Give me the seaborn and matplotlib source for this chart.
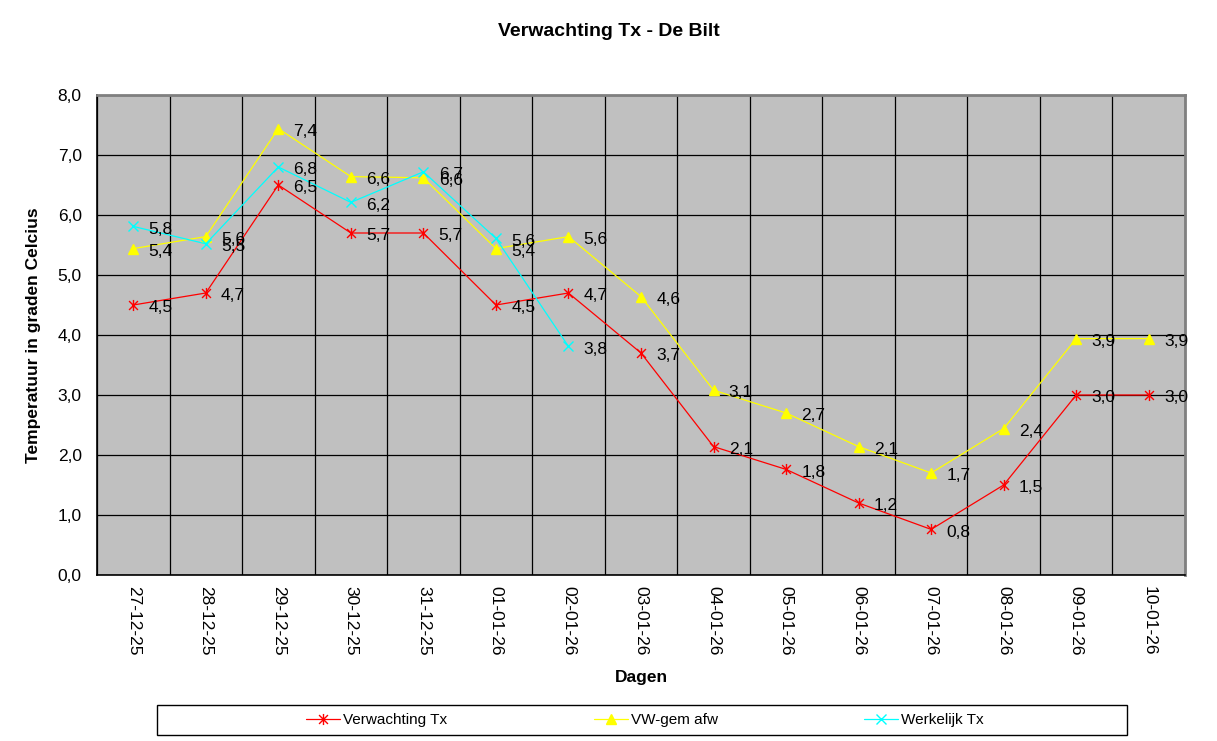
import numpy as np
import pandas as pd
import matplotlib
matplotlib.use("Agg")
import matplotlib.pyplot as plt
from matplotlib.path import Path
from matplotlib.patches import Rectangle
import seaborn as sns

# ---- data ----
dates = ["27-12-25", "28-12-25", "29-12-25", "30-12-25", "31-12-25", "01-01-26",
         "02-01-26", "03-01-26", "04-01-26", "05-01-26", "06-01-26", "07-01-26",
         "08-01-26", "09-01-26", "10-01-26"]
verwachting = [4.5, 4.7, 6.5, 5.7, 5.7, 4.5, 4.7, 3.7, 2.14, 1.76, 1.2, 0.76, 1.5, 3.0, 3.0]
vw_gem = [5.44, 5.64, 7.44, 6.64, 6.62, 5.44, 5.64, 4.64, 3.08, 2.70, 2.14, 1.70, 2.44, 3.94, 3.94]
werkelijk = [5.81, 5.52, 6.80, 6.21, 6.72, 5.61, 3.81]
y_ticks = [0, 1, 2, 3, 4, 5, 6, 7, 8]

sns.set_style("white")
plt.rcParams["font.family"] = ["Liberation Sans", "DejaVu Sans"]
plt.rcParams["text.color"] = "black"
plt.rcParams["axes.labelcolor"] = "black"
plt.rcParams["xtick.color"] = "black"
plt.rcParams["ytick.color"] = "black"

W, H = 1217, 741
fig = plt.figure(figsize=(W / 100, H / 100), dpi=100)
ax = fig.add_axes([97 / W, 1 - 575 / H, (1185 - 97) / W, (575 - 95) / H])
ax.set_facecolor("#C0C0C0")

star = Path([(0, -1), (0, 1), (-0.8, -0.8), (0.8, 0.8), (-0.8, 0.8), (0.8, -0.8)],
            [Path.MOVETO, Path.LINETO, Path.MOVETO, Path.LINETO, Path.MOVETO, Path.LINETO])

xs = np.arange(len(dates))
series = [
    ("Verwachting Tx", verwachting, "#FF0000", star, 8),
    ("VW-gem afw", vw_gem, "#FFFF00", "^", 7.5),
    ("Werkelijk Tx", werkelijk, "#00FFFF", "x", 6.5),
]
handles = []
for i, (name, vals, col, mk, ms) in enumerate(series):
    df = pd.DataFrame({"x": xs[:len(vals)], "y": vals})
    sns.lineplot(data=df, x="x", y="y", ax=ax, color=col, marker=mk, markersize=ms,
                 markeredgecolor=col, markerfacecolor=col, markeredgewidth=1.0,
                 linewidth=0.9, errorbar=None, zorder=3 + i, label=name, legend=False)
    handles.append(ax.lines[-1])

for name, vals, col, mk, ms in series:
    for x, v in zip(xs, vals):
        ax.annotate(f"{v:.1f}".replace(".", ","), (x, v), xytext=(11, -2),
                    textcoords="offset points", ha="left", va="center",
                    fontsize=12.5, color="black", zorder=10)

ax.set_xlim(-0.5, len(dates) - 0.5)
ax.set_ylim(0, 8)
ax.set_yticks(y_ticks)
ax.set_yticklabels([f"{t:.1f}".replace(".", ",") for t in y_ticks], fontsize=12.5)
ax.set_xticks(xs)
ax.set_xticklabels(dates, rotation=-90, fontsize=12.5, va="top", ha="center")
ax.set_xticks(np.arange(-0.5, len(dates), 1.0), minor=True)
ax.tick_params(axis="x", which="major", length=0, pad=8, labelcolor="black")
ax.tick_params(axis="x", which="minor", length=5, width=1, color="black", direction="out")
ax.tick_params(axis="y", which="major", length=5, width=1, color="black", direction="out",
               pad=6, labelcolor="black")

ax.grid(True, axis="y", which="major", color="black", linewidth=0.9)
ax.grid(True, axis="x", which="minor", color="black", linewidth=0.9)
ax.grid(False, axis="x", which="major")
ax.set_axisbelow(True)

for s in ["left", "bottom"]:
    ax.spines[s].set_color("black")
    ax.spines[s].set_linewidth(1.2)
for s in ["top", "right"]:
    ax.spines[s].set_color("#808080")
    ax.spines[s].set_linewidth(2)

ax.set_xlabel("Dagen", fontsize=12.5, fontweight="bold", labelpad=10, color="black")
ax.set_ylabel("Temperatuur in graden Celcius", fontsize=12.5, fontweight="bold", labelpad=12,
              color="black")
fig.text(0.5, 1 - 32 / H, "Verwachting Tx - De Bilt", ha="center", va="center",
         fontsize=14, fontweight="bold", color="black")

fig.patches.append(Rectangle((157 / W, 1 - 735 / H), 970 / W, 30 / H, transform=fig.transFigure,
                             facecolor="none", edgecolor="black", linewidth=1))
leg = fig.legend(handles, [s[0] for s in series], loc="center", bbox_to_anchor=(645 / W, 1 - 720 / H),
                 ncol=3, frameon=False, fontsize=11, columnspacing=9.6, handlelength=2.2,
                 handletextpad=0.2, numpoints=1)
for t in leg.get_texts():
    t.set_color("black")

fig.savefig("out.png", dpi=100)
